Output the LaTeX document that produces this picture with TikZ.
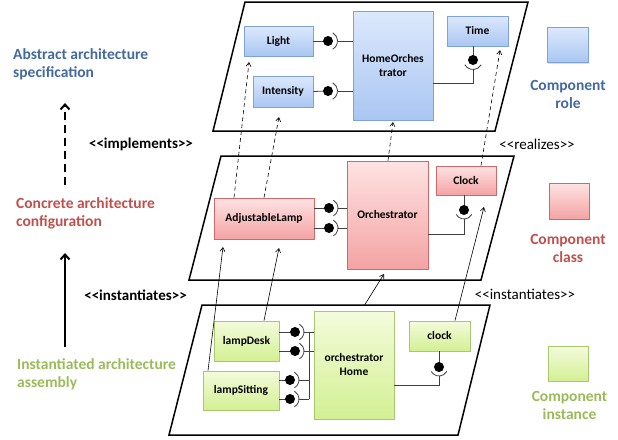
\documentclass[tikz,border=0pt]{standalone}
\usepackage{fontspec}
\setmainfont{Carlito}
\usetikzlibrary{arrows.meta,shadows}
\definecolor{bluetxt}{HTML}{44699F}
\definecolor{redtxt}{HTML}{C0504D}
\definecolor{greentxt}{HTML}{9BBB59}
\definecolor{blueA}{HTML}{DCE9FC}
\definecolor{blueB}{HTML}{A9C6F2}
\definecolor{blueD}{HTML}{7EA3D8}
\definecolor{redA}{HTML}{FEE3E3}
\definecolor{redB}{HTML}{F4A3A3}
\definecolor{redD}{HTML}{D06A6A}
\definecolor{greenA}{HTML}{F4FBDC}
\definecolor{greenB}{HTML}{D3F093}
\definecolor{greenD}{HTML}{A8C870}
\definecolor{conncol}{HTML}{404040}
\tikzset{
  comp/.style={draw, line width=0.8pt, inner sep=1pt, align=center,
    font=\fontsize{11.5}{14}\selectfont\bfseries,
    drop shadow={shadow xshift=1pt, shadow yshift=-1pt, opacity=0.25}},
  bluebox/.style={comp, draw=blueD, top color=blueA, bottom color=blueB},
  redbox/.style={comp, draw=redD, top color=redA, bottom color=redB},
  greenbox/.style={comp, draw=greenD, top color=greenA, bottom color=greenB},
  plane/.style={draw=black, line width=1.5pt, line join=miter},
  conn/.style={draw=conncol, line width=0.8pt},
  real/.style={draw=black, line width=0.6pt, dash pattern=on 4pt off 3pt, -{Straight Barb[length=4pt,width=5pt]}},
  inst/.style={draw=black, line width=0.6pt, -{Straight Barb[length=4pt,width=5pt]}},
  biglabel/.style={font=\fontsize{15.5}{18}\selectfont\bfseries, align=left, anchor=west, inner sep=0pt},
  legtext/.style={font=\fontsize{15.5}{18}\selectfont\bfseries, align=center},
  stereo/.style={font=\fontsize{15}{18}\selectfont},
}
\begin{document}
\begin{tikzpicture}[x=1pt,y=-1pt]
\useasboundingbox (0,0) rectangle (618,439);

% planes
\draw[plane] (245,2) -- (528,2) -- (495,131) -- (213,131) -- cycle;
\draw[plane] (221,156) -- (514,156) -- (481,280) -- (189,280) -- cycle;
\draw[plane] (202,305) -- (490,305) -- (458,435) -- (169,435) -- cycle;

% top plane: component roles
\node[bluebox, minimum width=69pt, minimum height=30pt] (light) at (278.5,41) {Light};
\node[bluebox, minimum width=60pt, minimum height=31pt] (intensity) at (283,91.5) {Intensity};
\node[bluebox, minimum width=80pt, minimum height=109pt] (homeorch) at (393,65.5) {HomeOrches\\trator};
\node[bluebox, minimum width=61pt, minimum height=30pt] (time) at (477.5,31) {Time};

% middle plane: component classes
\node[redbox, minimum width=100pt, minimum height=41pt] (adjlamp) at (264,218.5) {AdjustableLamp};
\node[redbox, minimum width=81pt, minimum height=108pt] (orch) at (387.5,215) {Orchestrator};
\node[redbox, minimum width=60pt, minimum height=29pt] (clockc) at (466,180.5) {Clock};

% bottom plane: component instances
\node[greenbox, minimum width=65pt, minimum height=40pt] (lampdesk) at (246.5,341) {lampDesk};
\node[greenbox, minimum width=76pt, minimum height=39pt] (lampsit) at (241,390.5) {lampSitting};
\node[greenbox, minimum width=80pt, minimum height=108pt] (orchhome) at (354,365) {orchestrator\\Home};
\node[greenbox, minimum width=61pt, minimum height=30pt] (clocki) at (439.5,336) {clock};

% ---- lollipops, top plane
\draw[conn] (light.east) -- (328,41);
\fill (328,41) circle (5);
\draw[conn] (328,41) ++(60:9.5) arc (60:-60:9.5);
\draw[conn] (338,41) -- (homeorch.west |- 338,41);
\draw[conn] (intensity.east) -- (328,91);
\fill (328,91) circle (5);
\draw[conn] (328,91) ++(60:9.5) arc (60:-60:9.5);
\draw[conn] (338,91) -- (homeorch.west |- 338,91);
\draw[conn] (time.south -| 473,0) -- (473,60);
\fill (473,60) circle (5);
\draw[conn] (473,60) ++(150:9.5) arc (150:30:9.5);
\draw[conn] (473,69.5) -- (473,83) -- (homeorch.east |- 0,83);

% ---- lollipops, middle plane
\draw[conn] (adjlamp.east |- 0,208) -- (329,208);
\fill (329,208) circle (5);
\draw[conn] (329,208) ++(60:9) arc (60:-60:9);
\draw[conn] (338,208) -- (orch.west |- 0,208);
\draw[conn] (adjlamp.east |- 0,228) -- (329,228);
\fill (329,228) circle (5);
\draw[conn] (329,228) ++(60:9) arc (60:-60:9);
\draw[conn] (338,228) -- (orch.west |- 0,228);
\draw[conn] (clockc.south -| 464,0) -- (464,210);
\fill (464,210) circle (5);
\draw[conn] (464,210) ++(150:9) arc (150:30:9);
\draw[conn] (464,219) -- (464,234) -- (orch.east |- 0,234);

% ---- lollipops, bottom plane
\draw[conn] (lampdesk.east |- 0,332) -- (295,332);
\fill (295,332) circle (5);
\draw[conn] (295,332) ++(60:9) arc (60:-60:9);
\draw[conn] (304,332) -- (orchhome.west |- 0,332);
\draw[conn] (lampdesk.east |- 0,351) -- (295,351);
\fill (295,351) circle (5);
\draw[conn] (295,351) ++(60:9) arc (60:-60:9);
\draw[conn] (304,351) -- (orchhome.west |- 0,351);
\draw[conn] (lampsit.east |- 0,380) -- (290,380);
\fill (290,380) circle (5);
\draw[conn] (290,380) ++(60:9) arc (60:-60:9);
\draw[conn] (299,380) -- (309,380);
\draw[conn] (lampsit.east |- 0,399) -- (290,399);
\fill (290,399) circle (5);
\draw[conn] (290,399) ++(60:9) arc (60:-60:9);
\draw[conn] (299,399) -- (309,399);
\draw[conn] (309,332) -- (309,399);
\draw[conn] (clocki.south -| 439,0) -- (439,367);
\fill (439,367) circle (5);
\draw[conn] (439,367) ++(150:9) arc (150:30:9);
\draw[conn] (439,376) -- (439,385) -- (orchhome.east |- 0,385);

% ---- realizes (dashed) arrows
\draw[real] (adjlamp.north -| 234,0) -- (249,62);
\draw[real] (adjlamp.north -| 264,0) -- (279,117);
\draw[real] (orch.north -| 388,0) -- (393,122);
\draw[real] (clockc.north -| 481,0) -- (500,50);

% ---- instantiates arrows
\draw[inst] (lampsit.north -| 208,0) -- (223,247);
\draw[inst] (lampdesk.north -| 264,0) -- (279,248);
\coordinate (pb) at (364,306);
\draw[inst] (pb) -- (384,274);
\draw[inst] (clocki.north -| 455,0) -- (484,207);

% ---- left side
\node[biglabel, text=bluetxt] (abs) at (13,64) {Abstract architecture\\specification};
\node[biglabel, text=redtxt] (conc) at (16,213.5) {Concrete  architecture\\configuration};
\node[biglabel, text=greentxt] (inst) at (17,374.5) {Instantiated architecture\\assembly};
\coordinate (a1) at (65,185);
\coordinate (a2) at (65,103);
\draw[line width=2.2pt, dash pattern=on 8pt off 5pt, -{Straight Barb[length=5pt,width=9pt,line width=2pt]}] (a1) -- (a2);
\coordinate (b1) at (65,347);
\coordinate (b2) at (65,253);
\draw[line width=2.2pt, -{Straight Barb[length=5pt,width=9pt,line width=2pt]}] (b1) -- (b2);
\node[stereo, font=\fontsize{15}{18}\selectfont\bfseries] (impl) at (141,144) {<{}<implements>{}>};
\node[stereo, font=\fontsize{15}{18}\selectfont\bfseries] (instl) at (135.5,295) {<{}<instantiates>{}>};

% ---- right side
\node[stereo] (realz) at (537,144) {<{}<realizes>{}>};
\node[stereo] (instr) at (525,294) {<{}<instantiates>{}>};
\node[bluebox, minimum width=41pt, minimum height=35pt] (legb) at (567.5,45) {};
\node[legtext, text=bluetxt] (legbt) at (568,94) {Component\\role};
\node[redbox, minimum width=40pt, minimum height=36pt] (legr) at (569,201) {};
\node[legtext, text=redtxt] (legrt) at (568,248.5) {Component\\class};
\node[greenbox, minimum width=40pt, minimum height=35pt] (legg) at (568,363.5) {};
\node[legtext, text=greentxt] (leggt) at (569.5,405.5) {Component\\instance};
\end{tikzpicture}
\end{document}
